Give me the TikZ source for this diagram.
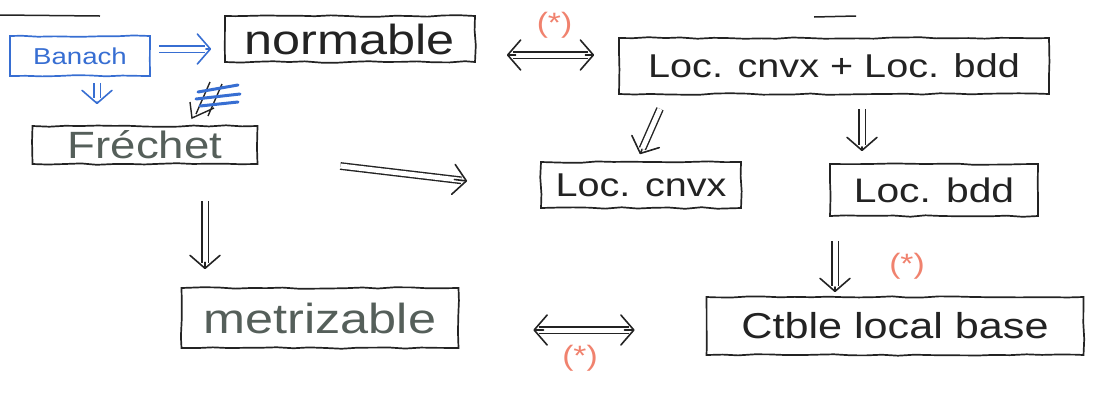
\documentclass[tikz,border=0pt]{standalone}
\usepackage{fontspec}
\setmainfont{Liberation Sans}[FakeStretch=1.2]
\usetikzlibrary{arrows.meta,calc,decorations.pathmorphing}
\definecolor{ink}{RGB}{35,35,35}
\definecolor{pencil}{RGB}{85,95,90}
\definecolor{bluepen}{RGB}{55,110,210}
\definecolor{redpen}{RGB}{240,130,110}
\newcommand{\fsz}[1]{\fontsize{#1}{#1}\selectfont}
\tikzset{
  hand/.style={decorate,decoration={random steps,segment length=16pt,amplitude=0.8pt}},
  notion/.style={draw=ink,line width=1.7pt,hand,inner sep=0pt,text=ink},
  dbl/.style={double=white,double distance=5pt,line width=1.4pt},
  head/.style={line width=1.6pt,line cap=round,line join=round,
               -{Straight Barb[length=13pt,width=30pt,line cap=round,line join=round]}},
  star/.style={text=redpen,font=\fsz{28},inner sep=1pt},
}
% double-shafted implication with an open V head
\newcommand{\implyarrow}[3][ink]{%
  \draw[dbl,draw=#1,shorten >=6pt] (#2) -- (#3);
  \draw[head,draw=#1] ($(#2)!0.9!(#3)$) -- (#3);}
\newcommand{\iffarrow}[2]{%
  \draw[dbl,draw=ink,shorten >=6pt,shorten <=6pt] (#1) -- (#2);
  \draw[head,draw=ink] ($(#1)!0.9!(#2)$) -- (#2);
  \draw[head,draw=ink] ($(#2)!0.9!(#1)$) -- (#1);}
\begin{document}
\pgfmathsetseed{7}
\begin{tikzpicture}[x=1pt,y=-1pt]
  \useasboundingbox (0,0) rectangle (1094,392);

  % notions
  \node[notion,draw=bluepen,text=bluepen,minimum width=140,minimum height=40,
        font=\fsz{23}] (banach) at (80,56) {Banach};
  \node[notion,minimum width=250,minimum height=46,font=\fsz{42}] (normable) at (350,39) {normable};
  \node[notion,minimum width=430,minimum height=56,font=\fsz{33}] (lcb) at (834,66) {Loc. cnvx + Loc. bdd};
  \node[notion,text=pencil,minimum width=225,minimum height=38,font=\fsz{38}] (frechet) at (145,145) {Fréchet};
  \node[notion,minimum width=200,minimum height=46,font=\fsz{33}] (lc) at (641,185) {Loc. cnvx};
  \node[notion,minimum width=208,minimum height=52,font=\fsz{34}] (lb) at (934,190) {Loc. bdd};
  \node[notion,text=pencil,minimum width=277,minimum height=60,font=\fsz{42}] (metr) at (320,318) {metrizable};
  \node[notion,minimum width=377,minimum height=58,font=\fsz{36}] (ctble) at (895,326) {Ctble local base};

  % arrow ends, placed against the boxes they join
  \coordinate (bn1) at ([shift={(8,-7)}]banach.east);
  \coordinate (bn2) at ([shift={(-13,10)}]normable.west);
  \coordinate (bf1) at ([shift={(17,6)}]banach.south);
  \coordinate (bf2) at ([shift={(-48,-21)}]frechet.north);
  \coordinate (nl1) at ([shift={(31,16)}]normable.east);
  \coordinate (nl2) at ([shift={(-24,-11)}]lcb.west);
  \coordinate (fc1) at ([shift={(82,21)}]frechet.east);
  \coordinate (fc2) at ([shift={(-73,-4)}]lc.west);
  \coordinate (lc1) at ([shift={(-174,14)}]lcb.south);
  \coordinate (lc2) at ([shift={(-1,-7)}]lc.north);
  \coordinate (lb1) at ([shift={(28,14)}]lcb.south);
  \coordinate (lb2) at ([shift={(-72,-12)}]lb.north);
  \coordinate (fm1) at ([shift={(60,36)}]frechet.south);
  \coordinate (fm2) at ([shift={(-115,-18)}]metr.north);
  \coordinate (bc1) at ([shift={(-99,24)}]lb.south);
  \coordinate (bc2) at ([shift={(-60,-4)}]ctble.north);
  \coordinate (mc1) at ([shift={(74,12)}]metr.east);
  \coordinate (mc2) at ([shift={(-71,4)}]ctble.west);

  % implications
  \implyarrow[bluepen]{bn1}{bn2}
  \implyarrow[bluepen]{bf1}{bf2}
  \iffarrow{nl1}{nl2}
  \implyarrow{fc1}{fc2}
  \implyarrow{lc1}{lc2}
  \implyarrow{lb1}{lb2}
  \implyarrow{fm1}{fm2}
  \implyarrow{bc1}{bc2}
  \iffarrow{mc1}{mc2}

  % conditions attached to some of the implications
  \node[star] (s1) at ($(nl1)!0.5!(nl2)+(4,-30)$) {(*)};
  \node[star] (s2) at ($(bc1)!0.5!(bc2)+(72,0)$) {(*)};
  \node[star] (s3) at ($(mc1)!0.5!(mc2)+(-4,28)$) {(*)};

  % crossed-out implication below the Banach arrow
  \coordinate (scratch) at (216,100);
  \draw[ink,line width=1.4pt] ([shift={(-6,-18)}]scratch) -- ([shift={(-20,14)}]scratch)
        ([shift={(6,-16)}]scratch) -- ([shift={(-8,16)}]scratch)
        ([shift={(-26,2)}]scratch) -- ([shift={(-24,18)}]scratch) -- ([shift={(-2,8)}]scratch);
  \draw[bluepen,line width=3pt,line cap=round]
        ([shift={(-18,-8)}]scratch) -- ([shift={(22,-15)}]scratch)
        ([shift={(-20,-1)}]scratch) -- ([shift={(24,-6)}]scratch)
        ([shift={(-16,6)}]scratch) -- ([shift={(22,2)}]scratch);

  % underlines left over from the line above
  \draw[ink,line width=1.5pt] (0,15) -- (100,16);
  \draw[ink,line width=1.5pt] (814,17) -- (856,16);
\end{tikzpicture}
\end{document}
